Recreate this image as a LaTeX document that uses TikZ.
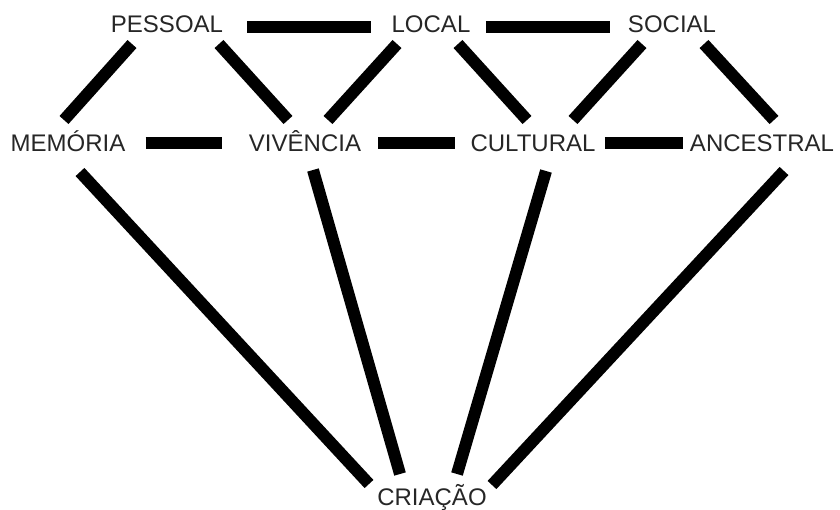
\documentclass[tikz,border=0pt]{standalone}
\usepackage{fontspec}
\setmainfont{Liberation Sans}
\usetikzlibrary{calc}

\begin{document}
\begin{tikzpicture}[
  x=0.5pt,y=-0.5pt,
  font=\fontsize{12}{14}\selectfont,
  termo/.style={inner sep=0pt,text height=8.6pt,text depth=0pt,text=black!85},
  barra/.style={line width=6pt,black}
]
\useasboundingbox (0,0) rectangle (840,509);

% ---- linha de cima ----
\node[termo] (pessoal) at (167,24) {PESSOAL};
\node[termo] (local) at (431,24) {LOCAL};
\node[termo] (social) at (672,24) {SOCIAL};

% ---- linha do meio ----
\node[termo] (memoria) at (68,143) {MEMÓRIA};
\node[termo] (vivencia) at (305,143) {VIVÊNCIA};
\node[termo] (cultural) at (533,143) {CULTURAL};
\node[termo] (ancestral) at (762,143) {ANCESTRAL};

% ---- base ----
\node[termo] (criacao) at (432,497) {CRIAÇÃO};

% barras horizontais
\draw[barra,shorten <=12pt,shorten >=10pt] ([yshift=-1.5pt]pessoal.east) -- ([yshift=-1.5pt]local.west);
\draw[barra,shorten <=7.5pt,shorten >=9pt] ([yshift=-1.5pt]local.east) -- ([yshift=-1.5pt]social.west);
\draw[barra,shorten <=10pt,shorten >=13.5pt] (memoria.east) -- (vivencia.west);
\draw[barra,shorten <=8.5pt,shorten >=7.5pt] (vivencia.east) -- (cultural.west);
\draw[barra,shorten <=4.5pt,shorten >=3.5pt] (cultural.east) -- (ancestral.west);

% ---- diagonais de cima ----
\draw[barra] ($(pessoal)+(-35,20)$) -- ($(memoria)+(-4,-23)$);
\draw[barra] ($(pessoal)+(52,20)$) -- ($(vivencia)+(-17,-23)$);
\draw[barra] ($(local)+(-34,20)$) -- ($(vivencia)+(23,-23)$);
\draw[barra] ($(local)+(27,20)$) -- ($(cultural)+(-6,-23)$);
\draw[barra] ($(social)+(-30,20)$) -- ($(cultural)+(40,-23)$);
\draw[barra] ($(social)+(32,20)$) -- ($(ancestral)+(12,-23)$);

% ---- leque ate a base ----
\draw[barra] ($(memoria)+(12,29)$) -- ($(criacao)+(-63,-13)$);
\draw[barra] ($(vivencia)+(8,27)$) -- ($(criacao)+(-32,-23)$);
\draw[barra] ($(cultural)+(13,28)$) -- ($(criacao)+(25,-23)$);
\draw[barra] ($(ancestral)+(22,28)$) -- ($(criacao)+(60,-12)$);

\end{tikzpicture}
\end{document}
